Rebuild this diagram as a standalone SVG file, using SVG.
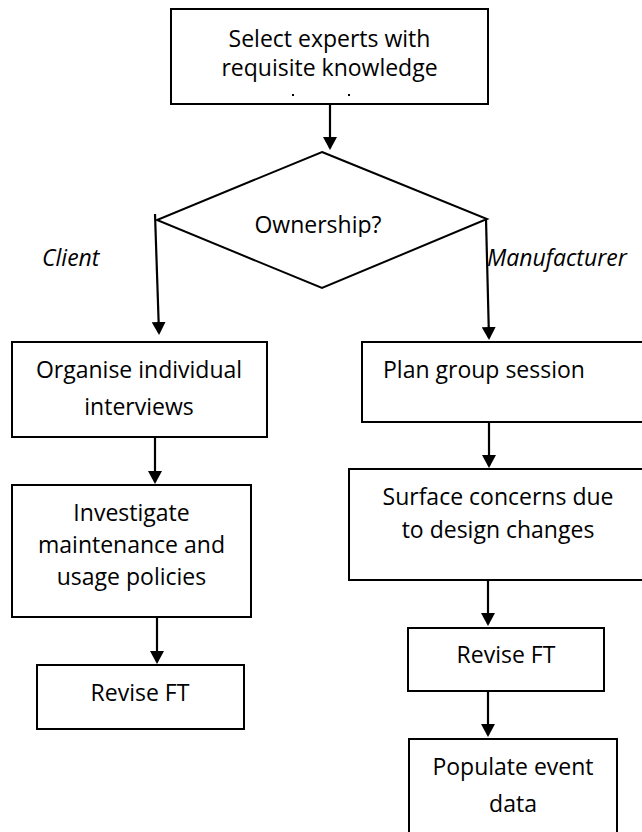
<svg xmlns="http://www.w3.org/2000/svg" width="642" height="832" viewBox="0 0 642 832">
<style>
.box{fill:#fff;stroke:#000;stroke-width:2}
.t{font-family:"Open Sans","Noto Sans","Liberation Sans",sans-serif;font-size:23px;fill:#000}
.c{text-anchor:middle}
.it{font-style:italic}
.ln{stroke:#000;stroke-width:2.2;fill:none;marker-end:url(#ah)}
</style>
<defs>
<marker id="ah" viewBox="0 0 13 14" refX="11" refY="7" markerWidth="13" markerHeight="14" markerUnits="userSpaceOnUse" orient="auto">
<path d="M0,0 L13,7 L0,14 z" fill="#000"/>
</marker>
<clipPath id="topclip"><rect x="171" y="9" width="317" height="86"/></clipPath>
<clipPath id="dclip"><rect x="150" y="150" width="345" height="87"/></clipPath>
</defs>
<rect width="642" height="832" fill="#fff"/>

<g id="select">
<rect class="box" x="171" y="9" width="317" height="95"/>
<text class="t c" x="329.5" y="47">Select experts with</text>
<text class="t c" x="329.5" y="76">requisite knowledge</text>
<rect x="292" y="94" width="2" height="2" fill="#000"/>
<rect x="348" y="94" width="2" height="2" fill="#000"/>
</g>

<g id="ownership">
<polygon class="box" points="322,152 487,219 322,288 157,220"/>
<text class="t c" x="318" y="233" clip-path="url(#dclip)">Ownership?</text>
</g>

<g id="labels">
<text class="t it" x="42" y="266">Client</text>
<text class="t it" x="487" y="266">Manufacturer</text>
</g>

<g id="organise">
<rect class="box" x="12" y="342" width="255" height="95"/>
<text class="t c" x="139" y="378">Organise individual</text>
<text class="t c" x="139" y="415">interviews</text>
</g>

<g id="investigate">
<rect class="box" x="12" y="485" width="239" height="132"/>
<text class="t c" x="131.5" y="521">Investigate</text>
<text class="t c" x="131.5" y="553">maintenance and</text>
<text class="t c" x="131.5" y="585">usage policies</text>
</g>

<g id="revise-left">
<rect class="box" x="37" y="665" width="207" height="64"/>
<text class="t c" x="140" y="701">Revise FT</text>
</g>

<g id="plan">
<rect class="box" x="362" y="342" width="290" height="80"/>
<text class="t" x="383" y="378">Plan group session</text>
</g>

<g id="surface">
<rect class="box" x="349" y="469" width="300" height="111"/>
<text class="t c" x="498" y="505">Surface concerns due</text>
<text class="t c" x="498" y="538">to design changes</text>
</g>

<g id="revise-right">
<rect class="box" x="408" y="628" width="196" height="63"/>
<text class="t c" x="506" y="663">Revise FT</text>
</g>

<g id="populate">
<rect class="box" x="409" y="739" width="208" height="110"/>
<text class="t c" x="513" y="775">Populate event</text>
<text class="t c" x="513" y="812">data</text>
</g>

<g id="connectors">
<line class="ln" x1="330" y1="104" x2="330" y2="148"/>
<line class="ln" x1="155" y1="214" x2="159" y2="333"/>
<line class="ln" x1="486" y1="219" x2="489" y2="338"/>
<line class="ln" x1="155" y1="437" x2="155" y2="482"/>
<line class="ln" x1="157" y1="617" x2="157" y2="662"/>
<line class="ln" x1="489" y1="422" x2="489" y2="466"/>
<line class="ln" x1="488" y1="580" x2="488" y2="624"/>
<line class="ln" x1="488" y1="691" x2="488" y2="735"/>
</g>
</svg>
